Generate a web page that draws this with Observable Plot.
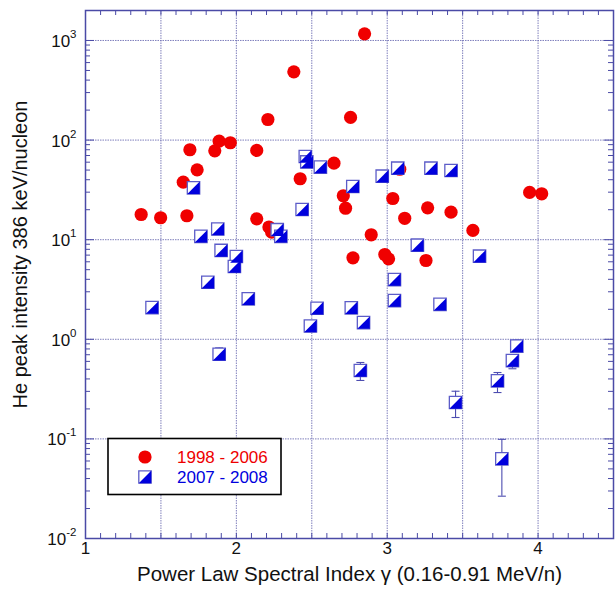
<!DOCTYPE html>
<html>
<head>
<meta charset="utf-8">
<script src="https://cdn.jsdelivr.net/npm/d3@7"></script>
<script src="https://cdn.jsdelivr.net/npm/@observablehq/plot@0.6"></script>
<style>
  html, body { margin: 0; padding: 0; background: #fff; }
  #chart svg { display: block; }
</style>
</head>
<body>
<div id="chart"></div>
<script>
// ---- data ----
const redX = [1.369, 1.498, 1.672, 1.648, 1.740, 1.692, 1.857, 1.886, 1.960, 2.135, 2.381, 2.209, 2.135, 2.216, 2.234,
              2.850, 2.757, 2.647, 2.423, 2.709, 2.724, 3.083, 3.037, 3.116, 3.268, 3.423, 2.894, 2.773, 2.984, 3.009,
              3.257, 3.568, 3.944, 4.024];
const redY = [17.9, 16.6, 17.4, 37.8, 50.3, 80, 78, 97.5, 94, 78.7, 484, 161, 16.2, 13.4, 11.9,
              1166, 169, 58.6, 40.9, 27.6, 20.7, 51, 25.9, 16.4, 20.9, 18.9, 11.2, 6.58, 7.1, 6.43,
              6.18, 12.4, 29.8, 28.9];

const blueX = [2.457, 2.467, 2.557, 1.716, 2.436, 1.765, 1.877, 2.271, 2.295, 1.899, 2.000, 1.987, 1.811, 1.441,
               2.079, 2.535, 2.491, 1.886, 2.762, 2.843, 2.822, 2.772, 2.967, 3.070, 3.290, 3.423, 3.200, 3.612,
               3.048, 3.048, 3.350, 3.453, 3.731, 3.830, 3.859, 3.760];
const blueY = [68.4, 60.3, 53.5, 33.2, 20.1, 10.8, 12.8, 12.6, 10.8, 7.8, 6.78, 5.38, 3.74, 2.08,
               2.55, 2.05, 1.36, 0.708, 2.07, 1.47, 0.486, 34.2, 43.4, 52.2, 52.2, 49.5, 8.8, 6.83,
               3.98, 2.45, 2.24, 0.232, 0.383, 0.612, 0.853, 0.063];

// error bars (2007 - 2008 events)
const errX  = [1.886, 2.822, 3.453, 3.731, 3.830, 3.859, 3.760];
const errLo = [0.62, 0.386, 0.164, 0.292, 0.506, 0.74, 0.0266];
const errHi = [0.82, 0.585, 0.301, 0.464, 0.70, 0.98, 0.099];

// axes
const xGrid = [1.5, 2, 2.5, 3, 3.5, 4];
const yGrid = [0.1, 1, 10, 100, 1000];
const xTickLabels = [1, 2, 3, 4];
const yTickLabels = [0.01, 0.1, 1, 10, 100, 1000];
const xMinor = d3.range(11, 45).map(d => d / 10);
const yMinor = [];
for (const e of [-2, -1, 0, 1, 2, 3]) for (let m = 2; m <= 9; m++) { const v = m * Math.pow(10, e); if (v <= 2000) yMinor.push(v); }

const seriesLabels = ["1998 - 2006", "2007 - 2008"];
const xTitle = "Power Law Spectral Index \u03b3 (0.16-0.91 MeV/n)";
const yTitle = "He peak intensity 386 keV/nucleon";

// ---- styles ----
const W = 616, H = 591, mL = 85, mR = 3, mT = 10, mB = 53;
const fw = W - mL - mR, fh = H - mT - mB;
const gridColor = "#7070b4", frameColor = "#4a4aa6";
const red = "#f00000", blue = "#0000dd", sqStroke = "#5c5cc8";
const h = 6.2;
const squareSym = {draw(ctx) { ctx.moveTo(-h, -h); ctx.lineTo(h, -h); ctx.lineTo(h, h); ctx.lineTo(-h, h); ctx.closePath(); }};
const triSym = {draw(ctx) { ctx.moveTo(h, -h); ctx.lineTo(h, h); ctx.lineTo(-h, h); ctx.closePath(); }};
const capSym = {draw(ctx) { ctx.moveTo(-4, 0); ctx.lineTo(4, 0); }};

const red_i = d3.range(redX.length);
const blue_i = d3.range(blueX.length);
const err_i = d3.range(errX.length);

const svg = Plot.plot({
  width: W, height: H,
  marginLeft: mL, marginRight: mR, marginTop: mT, marginBottom: mB,
  style: {fontFamily: "'Liberation Sans', Arial, sans-serif", fontSize: "16px", background: "#fff", color: "#222"},
  x: {domain: [1, 4.5], axis: null},
  y: {type: "log", domain: [0.01, 2000], axis: null},
  marks: [
    // grid
    Plot.ruleX(xGrid, {x: d => d, stroke: gridColor, strokeWidth: 0.9, strokeDasharray: "1.5,1"}),
    Plot.ruleY(yGrid, {y: d => d, stroke: gridColor, strokeWidth: 0.9, strokeDasharray: "1.5,1"}),
    // inward ticks
    Plot.ruleX(xMinor, {x: d => d, insetBottom: fh - 5, stroke: frameColor}),
    Plot.ruleX(xMinor, {x: d => d, insetTop: fh - 5, stroke: frameColor}),
    Plot.ruleY(yMinor, {y: d => d, insetRight: fw - 5, stroke: frameColor}),
    Plot.ruleY(yMinor, {y: d => d, insetLeft: fw - 5, stroke: frameColor}),
    Plot.ruleY(yGrid, {y: d => d, insetRight: fw - 9, stroke: frameColor}),
    Plot.ruleY(yGrid, {y: d => d, insetLeft: fw - 9, stroke: frameColor}),
    Plot.frame({stroke: frameColor, strokeWidth: 1.5}),
    // tick labels
    Plot.text(xTickLabels, {x: d => d, frameAnchor: "bottom", dy: 15, text: d => String(d), fontSize: 17, fill: "#111"}),
    Plot.text(yTickLabels, {y: d => d, frameAnchor: "left", dx: -9, dy: 1, textAnchor: "end",
      text: d => "10^" + Math.round(Math.log10(d)), fontSize: 17, fill: "#111"}),
    // titles
    Plot.text([xTitle], {frameAnchor: "bottom", dy: 42, textAnchor: "middle", text: d => d, fontSize: 20.5, fill: "#111"}),
    Plot.text([yTitle], {frameAnchor: "left", dx: -65, dy: -20, rotate: -90, textAnchor: "middle", text: d => d, fontSize: 20, fill: "#111"}),
    // data: 1998-2006
    Plot.dot(red_i, {x: i => redX[i], y: i => redY[i], r: 6.6, fill: red}),
    // error bars 2007-2008
    Plot.ruleX(err_i, {x: i => errX[i], y1: i => errLo[i], y2: i => errHi[i], stroke: "#4d4db0", strokeWidth: 1.1}),
    Plot.dot(err_i, {x: i => errX[i], y: i => errLo[i], symbol: capSym, stroke: "#4d4db0", fill: "none", strokeWidth: 1.1}),
    Plot.dot(err_i, {x: i => errX[i], y: i => errHi[i], symbol: capSym, stroke: "#4d4db0", fill: "none", strokeWidth: 1.1}),
    // data: 2007-2008
    Plot.dot(blue_i, {x: i => blueX[i], y: i => blueY[i], symbol: squareSym, fill: "#fff", stroke: sqStroke, strokeWidth: 1.3}),
    Plot.dot(blue_i, {x: i => blueX[i], y: i => blueY[i], symbol: triSym, fill: blue, stroke: "none"})
  ]
});

// superscript exponents on the y tick labels
d3.select(svg).selectAll("text").filter(function () { return /^10\^/.test(this.textContent); }).each(function () {
  const e = this.textContent.split("^")[1];
  this.textContent = "10";
  d3.select(this).append("tspan").attr("dy", -9).attr("font-size", "11.5px").text(e);
});

// legend inside the plot area
const lg = d3.select(svg).append("g").attr("font-family", "'Liberation Sans', Arial, sans-serif")
  .attr("font-size", 17).attr("text-anchor", "start");
lg.append("rect").attr("x", 108).attr("y", 438.5).attr("width", 173).attr("height", 56)
  .attr("fill", "#fff").attr("stroke", "#000").attr("stroke-width", 1.6);
lg.append("circle").attr("cx", 145).attr("cy", 457).attr("r", 6.6).attr("fill", red);
lg.append("path").attr("transform", "translate(145,477)").attr("d", d3.symbol(squareSym)()).attr("fill", "#fff").attr("stroke", sqStroke).attr("stroke-width", 1.3);
lg.append("path").attr("transform", "translate(145,477)").attr("d", d3.symbol(triSym)()).attr("fill", blue);
lg.append("text").attr("x", 177).attr("y", 463).attr("fill", "#ee0000").text(seriesLabels[0]);
lg.append("text").attr("x", 177).attr("y", 483).attr("fill", "#0000dd").text(seriesLabels[1]);

document.getElementById("chart").appendChild(svg);
</script>
</body>
</html>
